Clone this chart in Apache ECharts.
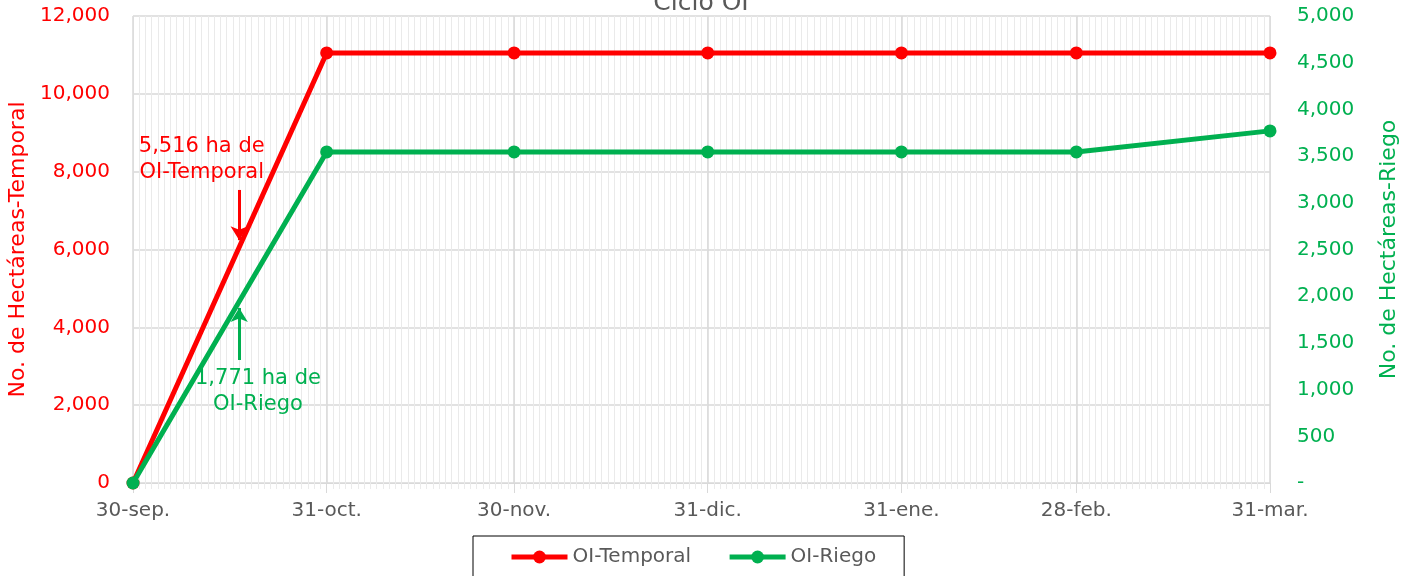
<!DOCTYPE html>
<html><head><meta charset="utf-8">
<script src="https://cdn.jsdelivr.net/npm/echarts@6/dist/echarts.min.js"></script>
<style>html,body{margin:0;padding:0;background:#fff}#c{width:1402px;height:576px}</style>
</head><body><div id="c"></div>
<script>
const dates = ['2024-09-30','2024-10-31','2024-11-30','2024-12-31','2025-01-31','2025-02-28','2025-03-31'];
const tickLabels = ['30-sep.','31-oct.','30-nov.','31-dic.','31-ene.','28-feb.','31-mar.'];
const temporal = [0,11050,11050,11050,11050,11050,11050];
const riego = [0,3545,3545,3545,3545,3545,3770];
const temporalNote = {text:'5,516 ha de\nOI-Temporal', labelAt:['2024-10-11', 8300], arrowFrom:['2024-10-17', 7530], arrowTo:['2024-10-17', 6240]};
const riegoNote = {text:'1,771 ha de\nOI-Riego', labelAt:['2024-10-20', 975], arrowFrom:['2024-10-17', 1317], arrowTo:['2024-10-17', 1874]};

const FONT = 'DejaVu Sans';
const FS = 20;
const DAY = 86400000;
const t0 = +echarts.time.parse(dates[0]);
const dayOf = s => Math.round((+echarts.time.parse(s) - t0) / DAY);
const monthTicks = dates.map(dayOf);
const lastDay = monthTicks[monthTicks.length - 1];
const fmtNum = v => v.toLocaleString('en-US');
const pt = p => [dayOf(p[0]), p[1]];

const chart = echarts.init(document.getElementById('c'));
chart.setOption({
  animation: false,
  textStyle: {fontFamily: FONT},
  title: {text: 'Ciclo OI', left: 'center', top: -14, textStyle: {fontFamily: FONT, fontSize: 25, fontWeight: 'normal', color: '#595959'}},
  grid: {left: 133, right: 132, top: 16, bottom: 93, outerBoundsMode: 'none', containLabel: false},
  legend: {
    top: 536, left: 473, borderColor: '#000', borderWidth: 1, borderRadius: 0,
    padding: [11, 28, 20, 36], itemGap: 36, itemWidth: 56, itemHeight: 16,
    lineStyle: {width: 5},
    textStyle: {fontFamily: FONT, fontSize: FS, color: '#595959'},
    data: ['OI-Temporal', 'OI-Riego']
  },
  xAxis: [{
    type: 'value', min: 0, max: lastDay, interval: 1,
    axisLine: {show: true, lineStyle: {color: '#d9d9d9', width: 1}},
    axisTick: {show: true, length: 6, lineStyle: {color: '#ebebeb'}},
    axisLabel: {show: false},
    splitLine: {show: true, lineStyle: {color: '#eaeaea', width: 1}}
  }, {
    type: 'value', position: 'bottom', min: 0, max: lastDay,
    axisLine: {show: false},
    axisTick: {show: true, customValues: monthTicks, length: 10, lineStyle: {color: '#d9d9d9'}},
    axisLabel: {
      show: true, customValues: monthTicks, margin: 18, fontFamily: FONT, fontSize: FS, color: '#595959',
      formatter: v => { const i = monthTicks.indexOf(Math.round(v)); return i >= 0 ? tickLabels[i] : ''; }
    },
    splitLine: {show: true, lineStyle: {color: '#d9d9d9', width: 1.5}}
  }],
  yAxis: [{
    type: 'value', min: 0, max: 12000, interval: 2000, position: 'left',
    name: 'No. de Hectáreas-Temporal', nameLocation: 'middle', nameGap: 102, nameRotate: 90,
    nameTextStyle: {fontFamily: FONT, fontSize: 22, color: '#ff0000'},
    axisLine: {show: false}, axisTick: {show: false},
    axisLabel: {margin: 23, fontFamily: FONT, fontSize: FS, color: '#ff0000', formatter: v => fmtNum(v)},
    splitLine: {show: true, lineStyle: {color: '#d9d9d9', width: 1.5}}
  }, {
    type: 'value', min: 0, max: 5000, interval: 500, position: 'right',
    name: 'No. de Hectáreas-Riego', nameLocation: 'middle', nameGap: 108, nameRotate: 90,
    nameTextStyle: {fontFamily: FONT, fontSize: 22, color: '#00b050'},
    axisLine: {show: false}, axisTick: {show: false},
    axisLabel: {margin: 27, fontFamily: FONT, fontSize: FS, color: '#00b050', formatter: v => v === 0 ? '-' : fmtNum(v)},
    splitLine: {show: false}
  }],
  series: [{
    name: 'OI-Temporal', type: 'line', xAxisIndex: 0, yAxisIndex: 0,
    data: dates.map((d, i) => [dayOf(d), temporal[i]]),
    symbol: 'circle', symbolSize: 13, color: '#ff0000',
    lineStyle: {width: 5, color: '#ff0000'}, itemStyle: {color: '#ff0000'},
    markLine: {
      silent: true, symbol: ['none', 'arrow'], symbolSize: [13, 14],
      lineStyle: {color: '#ff0000', width: 3, type: 'solid'}, label: {show: false},
      data: [[{coord: pt(temporalNote.arrowFrom)}, {coord: pt(temporalNote.arrowTo)}]]
    },
    markPoint: {
      silent: true, symbol: 'circle', symbolSize: 0,
      label: {show: true, position: 'inside', formatter: temporalNote.text, fontFamily: FONT, fontSize: 21, lineHeight: 26, color: '#ff0000'},
      data: [{coord: pt(temporalNote.labelAt)}]
    },
    z: 3
  }, {
    name: 'OI-Riego', type: 'line', xAxisIndex: 0, yAxisIndex: 1,
    data: dates.map((d, i) => [dayOf(d), riego[i]]),
    symbol: 'circle', symbolSize: 13, color: '#00b050',
    lineStyle: {width: 5, color: '#00b050'}, itemStyle: {color: '#00b050'},
    markLine: {
      silent: true, symbol: ['none', 'arrow'], symbolSize: [13, 14],
      lineStyle: {color: '#00b050', width: 3, type: 'solid'}, label: {show: false},
      data: [[{coord: pt(riegoNote.arrowFrom)}, {coord: pt(riegoNote.arrowTo)}]]
    },
    markPoint: {
      silent: true, symbol: 'circle', symbolSize: 0,
      label: {show: true, position: 'inside', formatter: riegoNote.text, fontFamily: FONT, fontSize: 21, lineHeight: 26, color: '#00b050'},
      data: [{coord: pt(riegoNote.labelAt)}]
    },
    z: 4
  }]
});
</script></body></html>
